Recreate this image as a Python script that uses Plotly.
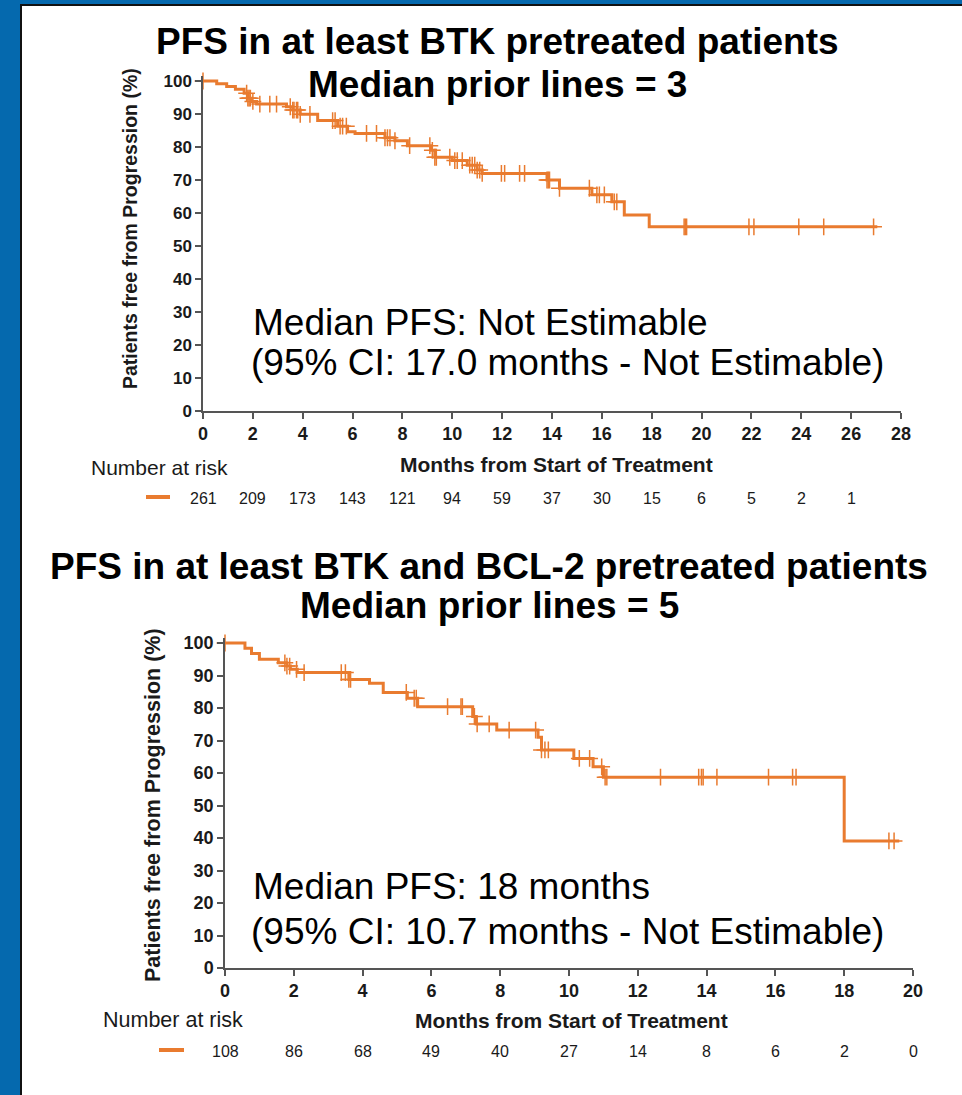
import plotly.graph_objects as go

W, H = 962, 1095
FONT = "Liberation Sans, Arial, sans-serif"
ORANGE = "#E97B2F"
AXIS = "#555555"
TXT = "#1a1a1a"
BLUE = "#0569AE"

# ---------------- Data: top panel (at least BTK pretreated) ----------------
btk_times = [0, 0.55, 0.95, 1.3, 1.65, 1.8, 1.95, 2.15, 3.35, 3.6, 3.9, 4.6, 5.4, 5.8,
             6.1, 7.3, 7.7, 8.2, 9.15, 9.3, 10.0, 10.6, 11.0, 11.2, 13.8, 14.3, 15.6,
             16.4, 16.9, 17.9]
btk_surv = [100, 99.2, 98.3, 97.5, 96.3, 94.8, 93.8, 93.0, 92.2, 91.2, 89.9, 88.0, 86.3,
            84.6, 84.1, 82.8, 81.9, 80.4, 79.0, 76.9, 75.9, 74.5, 73.0, 72.0, 70.0, 67.5,
            65.5, 63.4, 59.4, 55.8]
btk_last_time = 27.05
btk_censored = [0, 1.75, 1.8, 1.85, 1.9, 2.0, 2.28, 2.68, 2.95, 3.5, 3.6, 3.65, 3.75, 3.8,
                3.9, 4.29, 5.2, 5.3, 5.5, 5.6, 5.75, 6.56, 6.96, 7.3, 7.4, 7.5, 7.7, 8.29,
                9.1, 9.2, 9.3, 9.36, 9.9, 10.1, 10.2, 10.4, 10.7, 10.8, 10.9, 11.0, 11.1,
                11.2, 11.97, 12.1, 12.7, 12.9, 13.8, 13.85, 13.9, 14.3, 15.5, 15.8, 15.9,
                16.1, 16.5, 16.6, 19.3, 19.35, 19.4, 21.9, 22.1, 23.9, 24.9, 26.9]
btk_risk_months = [0, 2, 4, 6, 8, 10, 12, 14, 16, 18, 20, 22, 24, 26]
btk_risk = [261, 209, 173, 143, 121, 94, 59, 37, 30, 15, 6, 5, 2, 1]

# ---------------- Data: bottom panel (at least BTK and BCL-2 pretreated) ----------------
bcl_times = [0, 0.58, 0.77, 1.0, 1.55, 1.8, 1.9, 2.1, 3.6, 4.2, 4.6, 5.3, 5.6, 7.2, 7.3,
             7.9, 9.1, 9.2, 10.14, 10.7, 11.0, 18.0]
bcl_surv = [100, 98.4, 96.8, 95.0, 93.9, 92.9, 91.9, 90.9, 88.8, 87.6, 84.8, 83.0, 80.4,
            77.4, 75.1, 73.2, 71.0, 67.1, 64.5, 61.9, 58.7, 39.1]
bcl_last_time = 19.6
bcl_censored = [0, 1.74, 1.8, 1.88, 2.08, 2.3, 3.38, 3.5, 3.6, 3.65, 5.27, 5.5, 5.56, 6.47,
                6.86, 6.9, 7.25, 7.33, 7.68, 8.26, 9.03, 9.2, 9.3, 9.4, 10.3, 10.6, 10.95,
                11.05, 11.1, 12.66, 13.77, 13.85, 13.9, 14.3, 15.8, 16.5, 16.6, 19.3, 19.45]
bcl_risk_months = [0, 2, 4, 6, 8, 10, 12, 14, 16, 18, 20]
bcl_risk = [108, 86, 68, 49, 40, 27, 14, 8, 6, 2, 0]

ticks_y = [0, 10, 20, 30, 40, 50, 60, 70, 80, 90, 100]


def step_value(times, surv, t):
    v = surv[0]
    for ti, si in zip(times, surv):
        if ti <= t:
            v = si
    return v


def px(x):
    return x / W


def py(y):
    return 1 - y / H


fig = go.Figure()


def add_km(times, surv, last, cens, xa, ya):
    fig.add_trace(go.Scatter(
        x=times + [last], y=surv + [surv[-1]], mode="lines",
        line=dict(color=ORANGE, width=3, shape="hv"),
        xaxis=xa, yaxis=ya, showlegend=False, hoverinfo="skip"))
    fig.add_trace(go.Scatter(
        x=cens, y=[step_value(times, surv, t) for t in cens], mode="markers",
        marker=dict(symbol="cross-thin", size=12, line=dict(color=ORANGE, width=1.5)),
        xaxis=xa, yaxis=ya, showlegend=False, hoverinfo="skip", cliponaxis=False))


add_km(btk_times, btk_surv, btk_last_time, btk_censored, "x", "y")
add_km(bcl_times, bcl_surv, bcl_last_time, bcl_censored, "x2", "y2")


def axis_style(size):
    return dict(
        showline=True, linecolor=AXIS, linewidth=1.5, ticks="outside", ticklen=6,
        tickwidth=1.5, tickcolor=AXIS, showgrid=False, zeroline=False, automargin=False,
        tickfont=dict(family=FONT, size=size, color=TXT, weight="bold"), fixedrange=True)


# panel geometry (pixels)
T_X0, T_X1, T_Y0, T_Y100 = 203, 901, 411, 81
B_X0, B_X1, B_Y0, B_Y100 = 225, 913, 968, 643
YTOP = 101.5

fig.update_layout(
    xaxis=dict(domain=[px(T_X0), px(T_X1)], range=[0, 28], tickvals=list(range(0, 29, 2)),
               anchor="y", **axis_style(18)),
    yaxis=dict(domain=[py(T_Y0), py(T_Y100 - (YTOP - 100) * (T_Y0 - T_Y100) / 100)],
               range=[0, YTOP], tickvals=ticks_y, anchor="x", **axis_style(17)),
    xaxis2=dict(domain=[px(B_X0), px(B_X1)], range=[0, 20], tickvals=list(range(0, 21, 2)),
                anchor="y2", **axis_style(18)),
    yaxis2=dict(domain=[py(B_Y0), py(B_Y100 - (YTOP - 100) * (B_Y0 - B_Y100) / 100)],
                range=[0, YTOP], tickvals=ticks_y, anchor="x2", **axis_style(18)),
)

ann = []


def text(x, y, s, size, bold=False, xanchor="center", angle=0, xref="paper", color="black"):
    ann.append(dict(
        x=x if xref != "paper" else px(x), y=py(y), xref=xref, yref="paper", text=s,
        showarrow=False, xanchor=xanchor, yanchor="middle", textangle=angle,
        font=dict(family=FONT, size=size, color=color, weight="bold" if bold else "normal")))


# Titles
text(497, 41, "PFS in at least BTK pretreated patients", 37, bold=True)
text(497, 85, "Median prior lines = 3", 37, bold=True)
text(489, 566, "PFS in at least BTK and BCL-2 pretreated patients", 37, bold=True)
text(489, 606, "Median prior lines = 5", 37, bold=True)

# Median PFS notes
text(251, 322, "Median PFS: Not Estimable", 37, xanchor="left")
text(249, 362, "(95% CI: 17.0 months - Not Estimable)", 37, xanchor="left")
text(251, 886, "Median PFS: 18 months", 37, xanchor="left")
text(249, 931, "(95% CI: 10.7 months - Not Estimable)", 37, xanchor="left")

# Axis titles
text(130, 229, "Patients free from Progression (%)", 19.5, bold=True, angle=-90, color=TXT)
text(153, 805, "Patients free from Progression (%)", 21.5, bold=True, angle=-90, color=TXT)
text(556, 465, "Months from Start of Treatment", 21, bold=True, color=TXT)
text(571, 1020, "Months from Start of Treatment", 21, bold=True, color=TXT)

# Number at risk
text(159, 467, "Number at risk", 21, color=TXT)
text(173, 1020, "Number at risk", 21.5, color=TXT)
for m, n in zip(btk_risk_months, btk_risk):
    text(m, 498, str(n), 16, xref="x", color=TXT)
for m, n in zip(bcl_risk_months, bcl_risk):
    text(m, 1051, str(n), 16, xref="x2", color=TXT)

shapes = [
    dict(type="rect", xref="paper", yref="paper", x0=px(21), x1=1.05, y0=-0.05, y1=py(5),
         fillcolor="white", line=dict(color="#111111", width=2), layer="below"),
    dict(type="line", xref="paper", yref="paper", x0=px(146), x1=px(170), y0=py(497),
         y1=py(497), line=dict(color=ORANGE, width=4)),
    dict(type="line", xref="paper", yref="paper", x0=px(159), x1=px(184), y0=py(1050),
         y1=py(1050), line=dict(color=ORANGE, width=4)),
]

fig.update_layout(
    width=W, height=H, margin=dict(l=0, r=0, t=0, b=0, pad=0, autoexpand=False),
    paper_bgcolor=BLUE, plot_bgcolor="rgba(0,0,0,0)",
    annotations=ann, shapes=shapes, showlegend=False,
    font=dict(family=FONT),
)

fig.write_html(
    "out.html",
    config={"displayModeBar": False},
    post_script="document.body.style.margin='0';document.body.style.padding='0';"
                "document.body.style.overflow='hidden';",
)
